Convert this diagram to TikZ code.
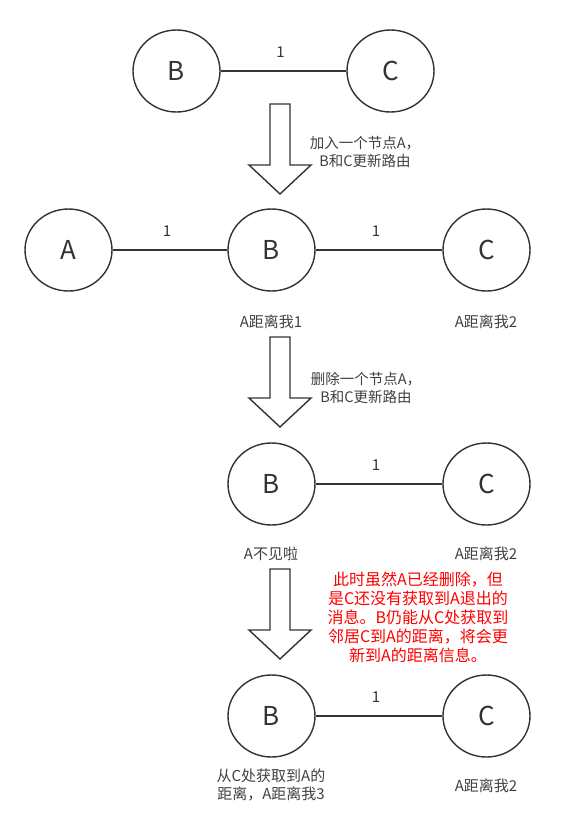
\documentclass[tikz,border=0pt]{standalone}
\usepackage{fontspec}
\setmainfont{Noto Sans CJK SC}
\usetikzlibrary{shapes.geometric}

\tikzset{
  router/.style={ellipse, draw=black!80, line width=1.4pt, minimum width=87pt, minimum height=82pt, inner sep=0pt, font=\fontsize{26}{30}\selectfont, text=black!80},
  link/.style={line width=1.4pt, black!80},
  cost/.style={font=\fontsize{15}{18}\selectfont, text=black!80, above=9pt, xshift=-3pt},
  note/.style={font=\fontsize{15}{18}\selectfont, text=black!75, align=center},
  step text/.style={font=\fontsize{14.5}{18}\selectfont, text=black!75, align=center},
  redtext/.style={font=\fontsize{16}{19}\selectfont, text=red, align=center},
}
% block arrow: top of shaft at y = #1
\newcommand{\stagearrow}[1]{
  \draw[line width=1.4pt, black!80, line join=miter]
    (270,#1) -- (290,#1) -- (290,#1+61) -- (311,#1+61) -- (280,#1+90)
    -- (249,#1+61) -- (270,#1+61) -- cycle;
}

\begin{document}
\begin{tikzpicture}[x=1pt, y=-1pt]
	\useasboundingbox (0,0) rectangle (570,828);
	% stage 1
	\node[router] (b1) at (176.5,71) {B};
	\node[router] (c1) at (390.5,71) {C};
	\draw[link] (b1) -- node[cost] {1} (c1);
	\stagearrow{104}
	\node[step text] (t1) at (365,152) {加入一个节点A，\\B和C更新路由};
	% stage 2
	\node[router] (a2) at (68.5,250) {A};
	\node[router] (b2) at (271.5,250) {B};
	\node[router] (c2) at (486.5,250) {C};
	\draw[link] (a2) -- node[cost] {1} (b2);
	\draw[link] (b2) -- node[cost] {1} (c2);
	\node[note] (lb2) at (271,322) {A距离我1};
	\node[note] (lc2) at (486,322) {A距离我2};
	\stagearrow{337}
	\node[step text] (t2) at (366,388) {删除一个节点A，\\B和C更新路由};
	% stage 3
	\node[router] (b3) at (271.5,484) {B};
	\node[router] (c3) at (486.5,484) {C};
	\draw[link] (b3) -- node[cost] {1} (c3);
	\node[note] (lb3) at (271,554) {A不见啦};
	\node[note] (lc3) at (486,554) {A距离我2};
	\stagearrow{569}
	\node[redtext] (why) at (418,617) {此时虽然A已经删除，但\\是C还没有获取到A退出的\\消息。B仍能从C处获取到\\邻居C到A的距离，将会更\\新到A的距离信息。};
	% stage 4
	\node[router] (b4) at (271.5,716) {B};
	\node[router] (c4) at (486.5,716) {C};
	\draw[link] (b4) -- node[cost] {1} (c4);
	\node[note] (lb4) at (271,785) {从C处获取到A的\\距离，A距离我3};
	\node[note] (lc4) at (486,786) {A距离我2};
\end{tikzpicture}
\end{document}
